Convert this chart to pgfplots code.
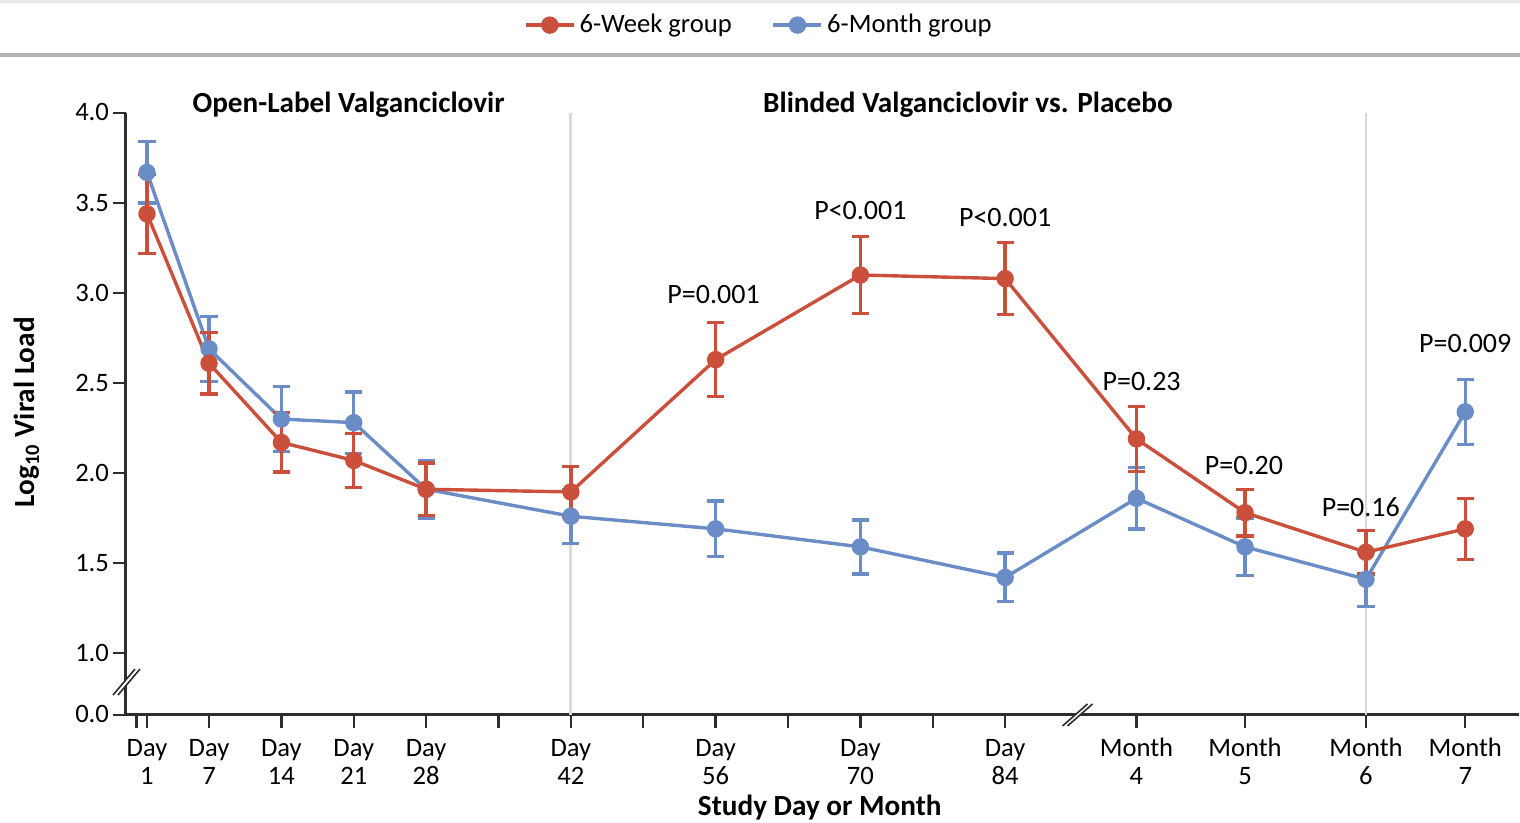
\documentclass[border=0pt]{standalone}
\usepackage{fontspec}
\setmainfont{Carlito}
\usepackage{pgfplots}
\usepackage{pgfplotstable}
\pgfplotsset{compat=1.18}
\definecolor{wkred}{RGB}{203,80,60}
\definecolor{mnblue}{RGB}{106,141,200}
\definecolor{axgray}{RGB}{45,45,45}

% x: study day (months placed on the broken scale), y: log10 viral load, e: error
\pgfplotstableread{
x y e
1 3.44 0.22
7 2.61 0.17
14 2.17 0.165
21 2.07 0.15
28 1.91 0.145
42 1.895 0.14
56 2.63 0.205
70 3.10 0.215
84 3.08 0.20
96.7 2.19 0.18
107.2 1.78 0.13
118.9 1.56 0.12
128.5 1.69 0.17
}\weektab
\pgfplotstableread{
x y e
1 3.67 0.17
7 2.69 0.18
14 2.30 0.18
21 2.28 0.17
28 1.91 0.16
42 1.76 0.15
56 1.69 0.155
70 1.59 0.15
84 1.42 0.135
96.7 1.86 0.17
107.2 1.59 0.16
118.9 1.41 0.15
128.5 2.34 0.18
}\monthtab

\begin{document}
\begin{tikzpicture}
\path[use as bounding box] (-63pt,-54pt) rectangle (697pt,357.5pt);
\begin{axis}[
  scale only axis, width=696.5pt, height=301pt,
  xmin=-1.03, xmax=133.7, ymin=0.656, ymax=4,
  axis lines=left, axis line style={-, axgray, line width=1.5pt},
  clip=false,
  tick align=outside, major tick length=6.5pt,
  tick style={axgray, line width=1.2pt},
  xtick={1,7,14,21,28,42,56,70,84,96.7,107.2,118.9,128.5},
  xticklabels={Day\\1,Day\\7,Day\\14,Day\\21,Day\\28,Day\\42,Day\\56,Day\\70,Day\\84,Month\\4,Month\\5,Month\\6,Month\\7},
  extra x ticks={0,35,49,63,77},
  extra x tick labels={},
  ytick={0.656,1,1.5,2,2.5,3,3.5,4},
  yticklabels={0.0,1.0,1.5,2.0,2.5,3.0,3.5,4.0},
  tick label style={font=\fontsize{13.3}{14}\selectfont},
  typeset ticklabels with strut,
  xticklabel style={align=center, yshift=-1pt},
  yticklabel style={xshift=1.5pt, yshift=-1.2pt},
  xlabel={\textbf{Study Day or Month}},
  xlabel style={at={(axis description cs:0.498,-0.1545)}, anchor=center, font=\fontsize{14.6}{16}\selectfont},
  ylabel={\textbf{Log\textsubscript{10} Viral Load}},
  ylabel style={at={(axis description cs:-0.071,0.503)}, anchor=center, font=\fontsize{14.6}{16}\selectfont},
  legend style={at={(axis description cs:0.455,1.146)}, anchor=center, draw=none, fill=none,
    legend columns=2, font=\fontsize{13.3}{15}\selectfont,
    /tikz/every even column/.append style={column sep=18pt}},
  legend image code/.code={\draw[mark repeat=2,mark phase=2,#1] plot coordinates {(0pt,0pt) (12pt,0pt) (24pt,0pt)};},
  every axis plot/.append style={line width=1.7pt},
]
% header rules
\draw[gray!18, line width=1.5pt] (axis description cs:-0.0905,1.1844) -- (axis description cs:1.0007,1.1844);
\draw[gray!60, line width=2pt] (axis description cs:-0.0905,1.0963) -- (axis description cs:1.0007,1.0963);
% phase separators
\draw[gray!30, line width=1.4pt] (axis cs:42,0.656) -- (axis cs:42,4);
\draw[gray!30, line width=1.4pt] (axis cs:118.9,0.656) -- (axis cs:118.9,4);

\addlegendimage{wkred, mark=*, mark size=3.5pt, line width=1.7pt}
\addlegendentry{6-Week group}
\addlegendimage{mnblue, mark=*, mark size=3.5pt, line width=1.7pt}
\addlegendentry{6-Month group}

\addplot[mnblue, mark=*, mark size=3.5pt, forget plot,
  error bars/.cd, y dir=both, y explicit,
  error bar style={line width=1.7pt, mnblue},
  error mark options={rotate=90, mark size=4.3pt, line width=1.7pt, mnblue}]
  table[x=x, y=y, y error=e] {\monthtab};
\addplot[wkred, mark=*, mark size=3.5pt, forget plot,
  error bars/.cd, y dir=both, y explicit,
  error bar style={line width=1.7pt, wkred},
  error mark options={rotate=90, mark size=4.3pt, line width=1.7pt, wkred}]
  table[x=x, y=y, y error=e] {\weektab};

% section titles
\node[font=\bfseries\fontsize{14.6}{16}\selectfont] at (axis cs:20.5,4.044) {Open-Label Valganciclovir};
\node[font=\bfseries\fontsize{14.6}{16}\selectfont] at (axis cs:80.4,4.044) {Blinded Valganciclovir vs. Placebo};

% P values
\begin{scope}[every node/.style={font=\fontsize{14}{15}\selectfont}]
\node at (axis cs:55.8,2.99) {P=0.001};
\node at (axis cs:70,3.456) {P<0.001};
\node at (axis cs:84,3.42) {P<0.001};
\node at (axis cs:97.2,2.506) {P=0.23};
\node at (axis cs:107.1,2.04) {P=0.20};
\node at (axis cs:118.4,1.81) {P=0.16};
\node at (axis cs:128.5,2.72) {P=0.009};
\end{scope}

% axis breaks
\begin{scope}[shift={(axis cs:-1.03,0.839)}]
  \fill[white] (-6.5pt,-6.5pt) -- (4.5pt,6.5pt) -- (7pt,6.5pt) -- (-4pt,-6.5pt) -- cycle;
  \draw[axgray, line width=0.8pt] (-6.5pt,-6.5pt) -- (4.5pt,6.5pt);
  \draw[axgray, line width=0.8pt] (-4pt,-6.5pt) -- (7pt,6.5pt);
\end{scope}
\begin{scope}[shift={(axis cs:91,0.656)}]
  \fill[white] (-7.5pt,-5.5pt) -- (5pt,5.5pt) -- (7.5pt,5.5pt) -- (-5pt,-5.5pt) -- cycle;
  \draw[axgray, line width=0.8pt] (-7.5pt,-5.5pt) -- (5pt,5.5pt);
  \draw[axgray, line width=0.8pt] (-5pt,-5.5pt) -- (7.5pt,5.5pt);
\end{scope}
\end{axis}
\end{tikzpicture}
\end{document}
